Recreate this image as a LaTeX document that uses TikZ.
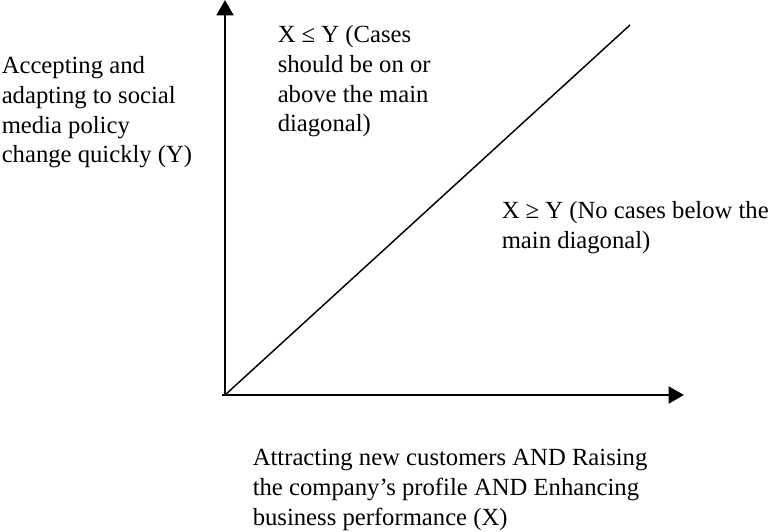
\documentclass[tikz,border=0pt]{standalone}
\usepackage{fontspec}
\setmainfont{Liberation Serif}
\usetikzlibrary{arrows.meta}
\begin{document}
\begin{tikzpicture}[x=0.75pt,y=-0.75pt,
  axis/.style={line width=2.1pt,-{Triangle[length=11.5pt,width=12.5pt]}},
  diag/.style={line width=1.1pt},
  lbl/.style={anchor=north west,inner sep=0pt,align=left,font=\fontsize{18.5}{22.4}\selectfont}]
\useasboundingbox (0,0) rectangle (768,532);
\coordinate (O) at (225,395);
\coordinate (Ytop) at (225,0);
\coordinate (Xtip) at (684,395);
\coordinate (Dend) at (630,25);
\draw[axis] (O) -- (Ytop);
\draw[axis] ([xshift=-2]O) -- (Xtip);
\draw[diag] (O) -- (Dend);
\node[lbl] (ylab) at (1.5,52.1) {\strut Accepting and\\\strut adapting to social\\\strut media policy\\\strut change quickly (Y)};
\node[lbl] (above) at (277.5,21.1) {\strut X ≤ Y (Cases\\\strut should be on or\\\strut above the main\\\strut diagonal)};
\node[lbl] (below) at (501.5,197.1) {\strut X ≥ Y (No cases below the\\\strut main diagonal)};
\node[lbl] (xlab) at (252.5,444.1) {\strut Attracting new customers AND Raising\\\strut the company’s profile AND Enhancing\\\strut business performance (X)};
\end{tikzpicture}
\end{document}
